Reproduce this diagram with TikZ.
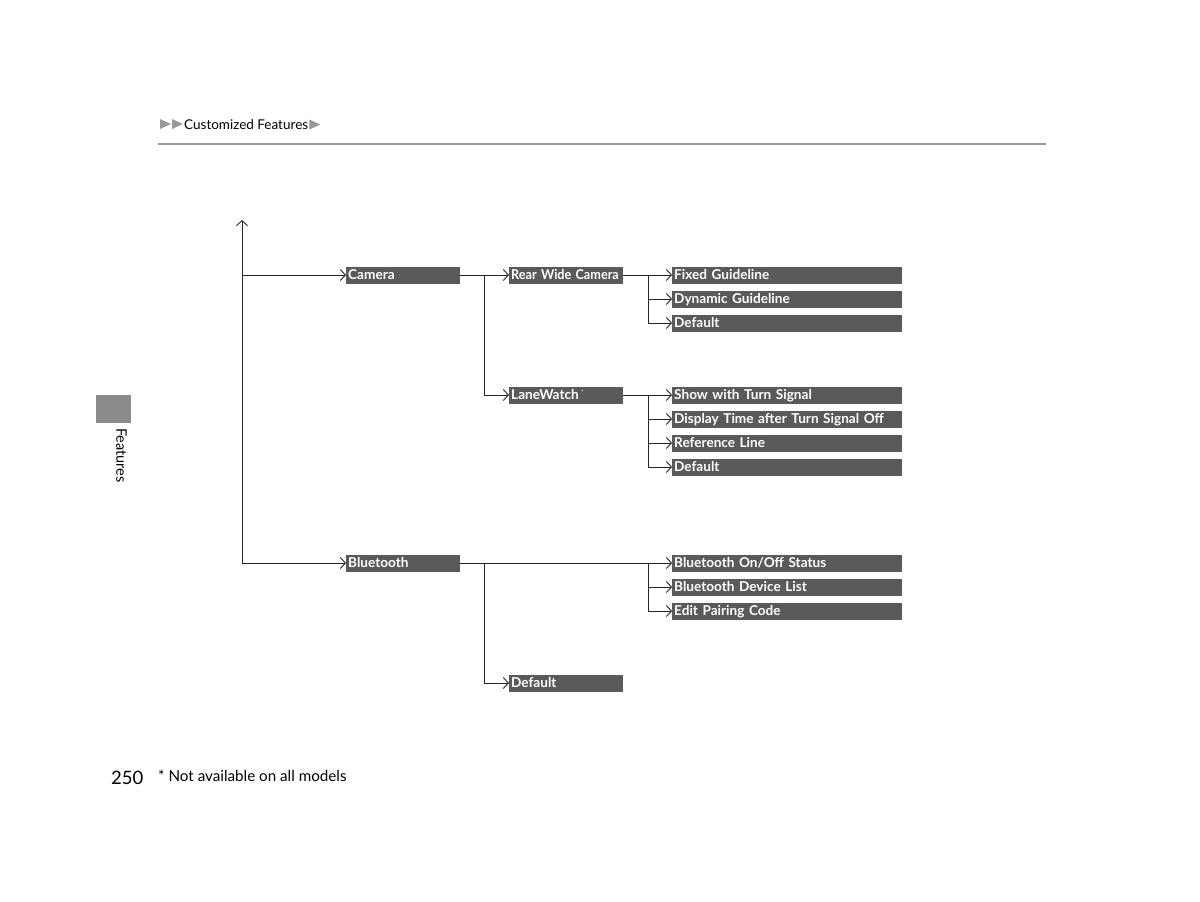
\documentclass[tikz,border=0pt]{standalone}
\usepackage{fontspec}
\setmainfont{Lato}
\usetikzlibrary{arrows.meta}
\definecolor{boxgray}{HTML}{5A5A5A}
\definecolor{rulegray}{HTML}{9A9A9A}
\definecolor{tabgray}{HTML}{8A8A8A}
\begin{document}
\begin{tikzpicture}[x=1pt,y=-1pt,
  conn/.style={line width=0.9pt, black!85},
  arr/.style={conn, -{Straight Barb[length=5pt,width=11pt,line width=0.9pt]}},
  tri/.style={fill=rulegray, draw=none},
  menubox/.style={fill=boxgray, text=white, font=\fontsize{13.6}{15}\selectfont\bfseries,
    anchor=west, text height=11.2pt, text depth=2.2pt, minimum height=17pt, inner ysep=1.8pt,
    inner xsep=2pt, align=left},
  midbox/.style={menubox, text width=110pt},
  widebox/.style={menubox, text width=226pt}]
\useasboundingbox (0,0) rectangle (1200,902);
% header
\fill[tri] (160,119) -- (171,124) -- (160,129) -- cycle;
\fill[tri] (172,119) -- (183,124) -- (172,129) -- cycle;
\node[anchor=west, font=\fontsize{13.5}{15}\selectfont, inner sep=0pt] (hdr) at (184,124.5) {Customized Features};
\fill[tri] (hdr.east) ++(1,-5) -- ++(11,5) -- ++(-11,5) -- cycle;
\draw[rulegray, line width=1.6pt] (158,144) -- (1046,144);
% side tab
\node[fill=tabgray, minimum width=35pt, minimum height=28pt, inner sep=0pt, anchor=north west] (tab) at (96,395) {};
\node[rotate=-90, anchor=west, font=\fontsize{14.5}{16}\selectfont, inner sep=0pt] (tablbl) at (121.5,428) {Features};
% footer
\node[anchor=west, font=\fontsize{18.5}{20}\selectfont, inner sep=0pt] (pg) at (111,778) {250};
\node[anchor=west, font=\fontsize{15.2}{17}\selectfont, inner sep=0pt] (note) at (158,776) {* Not available on all models};
% boxes
\node[midbox] (cam) at (346,275) {Camera};
\node[midbox] (rwc) at (509,275) {\scalebox{0.93}[1]{Rear Wide Camera}};
\node[widebox] (fg) at (672,275) {Fixed Guideline};
\node[widebox] (dg) at (672,299) {Dynamic Guideline};
\node[widebox] (d1) at (672,323) {Default};
\node[midbox] (lw) at (509,395) {LaneWatch\,\raisebox{5pt}{\normalfont\fontsize{6}{6}\selectfont *}};
\node[widebox] (sts) at (672,395) {Show with Turn Signal};
\node[widebox] (dt) at (672,419) {\mbox{Display Time after Turn Signal Off}};
\node[widebox] (rl) at (672,443) {Reference Line};
\node[widebox] (d2) at (672,467) {Default};
\node[midbox] (bt) at (346,563) {Bluetooth};
\node[widebox] (bos) at (672,563) {Bluetooth On/Off Status};
\node[widebox] (bdl) at (672,587) {Bluetooth Device List};
\node[widebox] (epc) at (672,611) {Edit Pairing Code};
\node[midbox] (d3) at (509,683) {Default};
% coordinates
\coordinate (top) at (242,220);
\coordinate (t1) at (242,275);
\coordinate (t2) at (242,563);
\coordinate (a1) at (484,275);
\coordinate (a2) at (484,395);
\coordinate (b1) at (648,275);
\coordinate (b2) at (648,299);
\coordinate (b3) at (648,323);
\coordinate (c1) at (648,395);
\coordinate (c2) at (648,419);
\coordinate (c3) at (648,443);
\coordinate (c4) at (648,467);
\coordinate (e1) at (484,563);
\coordinate (e2) at (484,683);
\coordinate (f1) at (648,563);
\coordinate (f2) at (648,587);
\coordinate (f3) at (648,611);
% trunk
\draw[arr] (t2) -- (top);
\draw[arr] (t1) -- (cam.west);
\draw[arr] (t2) -- (bt.west);
% camera
\draw[conn] (cam.east) -- (a1) -- (a2);
\draw[arr] (a1) -- (rwc.west);
\draw[arr] (a2) -- (lw.west);
\draw[conn] (rwc.east) -- (b1) -- (b3);
\draw[arr] (b1) -- (fg.west);
\draw[arr] (b2) -- (dg.west);
\draw[arr] (b3) -- (d1.west);
\draw[conn] (lw.east) -- (c1) -- (c4);
\draw[arr] (c1) -- (sts.west);
\draw[arr] (c2) -- (dt.west);
\draw[arr] (c3) -- (rl.west);
\draw[arr] (c4) -- (d2.west);
% bluetooth
\draw[arr] (bt.east) -- (bos.west);
\draw[conn] (e1) -- (e2);
\draw[arr] (e2) -- (d3.west);
\draw[conn] (f1) -- (f3);
\draw[arr] (f2) -- (bdl.west);
\draw[arr] (f3) -- (epc.west);
\end{tikzpicture}
\end{document}
